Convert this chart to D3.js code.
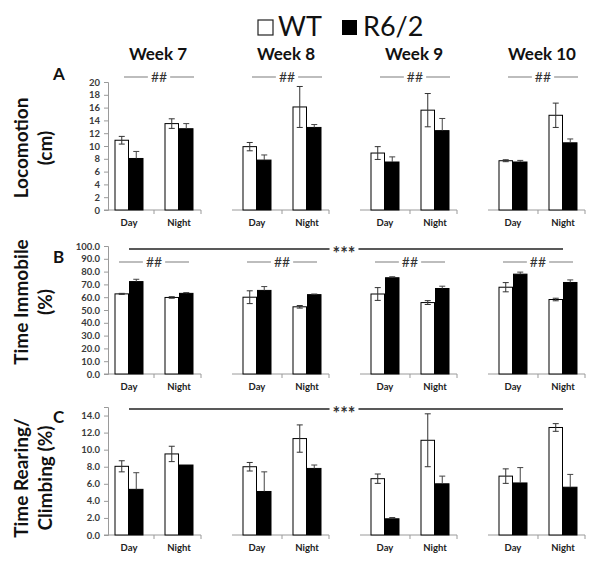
<!DOCTYPE html>
<html>
<head>
<meta charset="utf-8">
<script src="https://cdn.jsdelivr.net/npm/d3@7/dist/d3.min.js"></script>
<style>
  html, body { margin: 0; padding: 0; background: #fff; }
  svg { display: block; font-family: Lato, "Open Sans", sans-serif; }
</style>
</head>
<body>
<svg id="chart" width="600" height="566"></svg>
<script>
// ---------- data ----------
const weeks = ["Week 7", "Week 8", "Week 9", "Week 10"];
const periods = ["Day", "Night"];
const genotypes = ["WT", "R6/2"];

// A: Locomotion (cm)  [week][Day, Night]
const locoWT     = [[10.9, 13.5], [9.9, 16.1], [8.9, 15.6], [7.7, 14.8]];
const locoWTerr  = [[0.6, 0.75], [0.65, 3.2], [1.0, 2.6], [0.15, 1.9]];
const locoR6     = [[8.05, 12.7], [7.8, 12.9], [7.5, 12.4], [7.5, 10.5]];
const locoR6err  = [[1.1, 0.8], [0.8, 0.45], [0.8, 1.9], [0.25, 0.6]];
const locoTicks  = [0, 2, 4, 6, 8, 10, 12, 14, 16, 18, 20];

// B: Time Immobile (%)
const immWT      = [[62.6, 59.8], [60.0, 52.5], [62.5, 55.8], [67.8, 58.2]];
const immWTerr   = [[0.4, 0.6], [5.0, 1.0], [5.0, 1.5], [3.6, 1.0]];
const immR6      = [[72.2, 63.0], [65.3, 62.0], [75.2, 66.8], [78.0, 71.5]];
const immR6err   = [[1.8, 0.6], [3.0, 0.5], [0.8, 1.8], [1.6, 2.0]];
const immTicks   = [0, 10, 20, 30, 40, 50, 60, 70, 80, 90, 100];

// C: Time Rearing/Climbing (%)
const rearWT     = [[8.05, 9.5], [8.0, 11.3], [6.6, 11.1], [6.9, 12.6]];
const rearWTerr  = [[0.65, 0.9], [0.5, 1.6], [0.55, 3.1], [0.85, 0.45]];
const rearR6     = [[5.35, 8.2], [5.1, 7.8], [1.9, 6.0], [6.1, 5.6]];
const rearR6err  = [[1.95, 0.0], [2.3, 0.4], [0.15, 0.9], [1.8, 1.5]];
const rearTicks  = [0, 2, 4, 6, 8, 10, 12, 14];

const rowLetters = ["A", "B", "C"];
const rowTitles  = [["Locomotion", "(cm)"], ["Time Immobile", "(%)"], ["Time Rearing/", "Climbing (%)"]];
const weekMarks  = [["##", "##", "##", "##"], ["##", "##", "##", "##"], ["", "", "", ""]];
const spanMarks  = ["", "***", "***"];
const legendLabels = ["WT", "R6/2"];

// ---------- layout ----------
const svg = d3.select("#chart");
svg.append("rect").attr("width", 600).attr("height", 566).attr("fill", "#fff");

const rows = [
  { wt: locoWT, wte: locoWTerr, r6: locoR6, r6e: locoR6err, ticks: locoTicks, max: 20, top: 82, bottom: 210, fmt: d3.format("d"), markY: 77, markOff: 5 },
  { wt: immWT, wte: immWTerr, r6: immR6, r6e: immR6err, ticks: immTicks, max: 100, top: 246, bottom: 374, fmt: d3.format(".1f"), markY: 262, markOff: 0, spanY: 249 },
  { wt: rearWT, wte: rearWTerr, r6: rearR6, r6e: rearR6err, ticks: rearTicks, max: 15, top: 407, bottom: 535, fmt: d3.format(".1f"), spanY: 409 }
];
const titleCY = [148, 302, 478];
const letterY = [80, 263, 423];

const xWeek = d3.scaleBand().domain(weeks).range([107, 585]).paddingInner(0.2656).paddingOuter(0);
const xPeriod = d3.scaleBand().domain(periods).range([0, xWeek.bandwidth()]).paddingInner(0.42).paddingOuter(0.15);
const xGeno = d3.scaleBand().domain(genotypes).range([0, xPeriod.bandwidth()]).padding(0);

const fills = { "WT": "#ffffff", "R6/2": "#000000" };
const axisGray = "#9a9a9a";

// legend
const leg = svg.append("g");
leg.append("rect").attr("x", 258).attr("y", 20).attr("width", 15).attr("height", 15)
  .attr("fill", "#fff").attr("stroke", "#222").attr("stroke-width", 1.2);
leg.append("text").attr("x", 278).attr("y", 36).attr("font-size", 27).attr("fill", "#111").text(legendLabels[0]);
leg.append("rect").attr("x", 342).attr("y", 20).attr("width", 15).attr("height", 15).attr("fill", "#000");
leg.append("text").attr("x", 363).attr("y", 36).attr("font-size", 27).attr("fill", "#111").text(legendLabels[1]);

// week headers
svg.selectAll("text.week").data(weeks).enter().append("text")
  .attr("class", "week")
  .attr("x", d => xWeek(d) + xWeek.bandwidth() / 2 + 4)
  .attr("y", 60)
  .attr("text-anchor", "middle")
  .attr("font-size", 17).attr("font-weight", "bold").attr("fill", "#111")
  .text(d => d);

function markLine(g, x1, x2, y, label, color, fontSize, weight, off, baseShift) {
  const cx = (x1 + x2) / 2 + (off || 0);
  const t = g.append("text").attr("x", cx).attr("y", y + fontSize * baseShift)
    .attr("text-anchor", "middle").attr("font-size", fontSize).attr("font-weight", weight)
    .attr("fill", "#333").text(label);
  const w = t.node().getComputedTextLength();
  g.append("line").attr("x1", x1).attr("x2", cx - w / 2 - 3).attr("y1", y).attr("y2", y)
    .attr("stroke", color).attr("stroke-width", 1.3);
  g.append("line").attr("x1", cx + w / 2 + 3).attr("x2", x2).attr("y1", y).attr("y2", y)
    .attr("stroke", color).attr("stroke-width", 1.3);
}

rows.forEach((row, r) => {
  const y = d3.scaleLinear().domain([0, row.max]).range([row.bottom, row.top]);
  const g = svg.append("g");

  // y title
  const tt = g.append("text")
    .attr("transform", `translate(0,${titleCY[r]}) rotate(-90)`)
    .attr("text-anchor", "middle").attr("font-size", 19).attr("font-weight", "bold").attr("fill", "#111");
  tt.append("tspan").attr("x", 0).attr("y", 28).text(rowTitles[r][0]);
  tt.append("tspan").attr("x", 0).attr("y", 52).text(rowTitles[r][1]);

  // panel letter
  g.append("text").attr("x", 53).attr("y", letterY[r]).attr("font-size", 17)
    .attr("font-weight", "bold").attr("fill", "#111").text(rowLetters[r]);

  // y axis (first panel)
  const axX = xWeek(weeks[0]) + 1;
  const ax = g.append("g").attr("transform", `translate(${axX},0)`)
    .call(d3.axisLeft(y).tickValues(row.ticks).tickFormat(row.fmt).tickSize(4).tickPadding(4));
  ax.select(".domain").attr("stroke", axisGray);
  ax.selectAll(".tick line").attr("stroke", axisGray);
  ax.selectAll(".tick text").attr("font-size", 9.5).attr("font-weight", "bold").attr("fill", "#3a3a3a")
    .attr("font-family", "Lato, sans-serif");

  weeks.forEach((wk, i) => {
    const x0 = xWeek(wk);
    const bw = xWeek.bandwidth();
    const pg = g.append("g");
    // baseline
    pg.append("line").attr("x1", x0 - 3).attr("x2", x0 + bw).attr("y1", y(0)).attr("y2", y(0))
      .attr("stroke", axisGray).attr("stroke-width", 1);
    [bw / 2, bw].forEach(tx => {
      pg.append("line").attr("x1", x0 + tx).attr("x2", x0 + tx).attr("y1", y(0)).attr("y2", y(0) + 4)
        .attr("stroke", axisGray);
    });

    periods.forEach((p, pi) => {
      const gx = x0 + xPeriod(p);
      const vals = { "WT": [row.wt[i][pi], row.wte[i][pi]], "R6/2": [row.r6[i][pi], row.r6e[i][pi]] };
      genotypes.forEach(gn => {
        const [v, e] = vals[gn];
        const bx = gx + xGeno(gn);
        const w = xGeno.bandwidth();
        pg.append("rect").attr("x", bx + 0.5).attr("y", y(v)).attr("width", w - 1).attr("height", y(0) - y(v))
          .attr("fill", fills[gn]).attr("stroke", "#000").attr("stroke-width", 1);
        if (e > 0) {
          const cx = bx + w / 2;
          const col = gn === "WT" ? "#333" : "#444";
          pg.append("line").attr("x1", cx).attr("x2", cx).attr("y1", y(v + e)).attr("y2", gn === "WT" ? y(v - e) : y(v))
            .attr("stroke", col).attr("stroke-width", 1);
          pg.append("line").attr("x1", cx - 3).attr("x2", cx + 3).attr("y1", y(v + e)).attr("y2", y(v + e))
            .attr("stroke", col).attr("stroke-width", 1);
          if (gn === "WT") {
            pg.append("line").attr("x1", cx - 3).attr("x2", cx + 3).attr("y1", y(v - e)).attr("y2", y(v - e))
              .attr("stroke", col).attr("stroke-width", 1);
          }
        }
      });
      pg.append("text").attr("x", gx + xPeriod.bandwidth() / 2).attr("y", y(0) + 16)
        .attr("text-anchor", "middle").attr("font-size", 9.5).attr("font-weight", "bold").attr("fill", "#222")
        .text(p);
    });

    // week-level significance
    if (weekMarks[r][i]) {
      const c = x0 + bw / 2 + row.markOff;
      markLine(pg, c - 35, c + 35, row.markY, weekMarks[r][i], "#9a9a9a", 14, "normal", 0, 0.36);
    }
  });

  // span significance
  if (spanMarks[r]) {
    const xs = xWeek(weeks[0]) + xPeriod(periods[0]) + xPeriod.bandwidth() / 2;
    const xe = xWeek(weeks[3]) + xPeriod(periods[1]) + xPeriod.bandwidth() / 2;
    markLine(g, xs, xe, row.spanY, spanMarks[r], "#222", 18, "bold", -2, 0.6);
  }
});
</script>
</body>
</html>
